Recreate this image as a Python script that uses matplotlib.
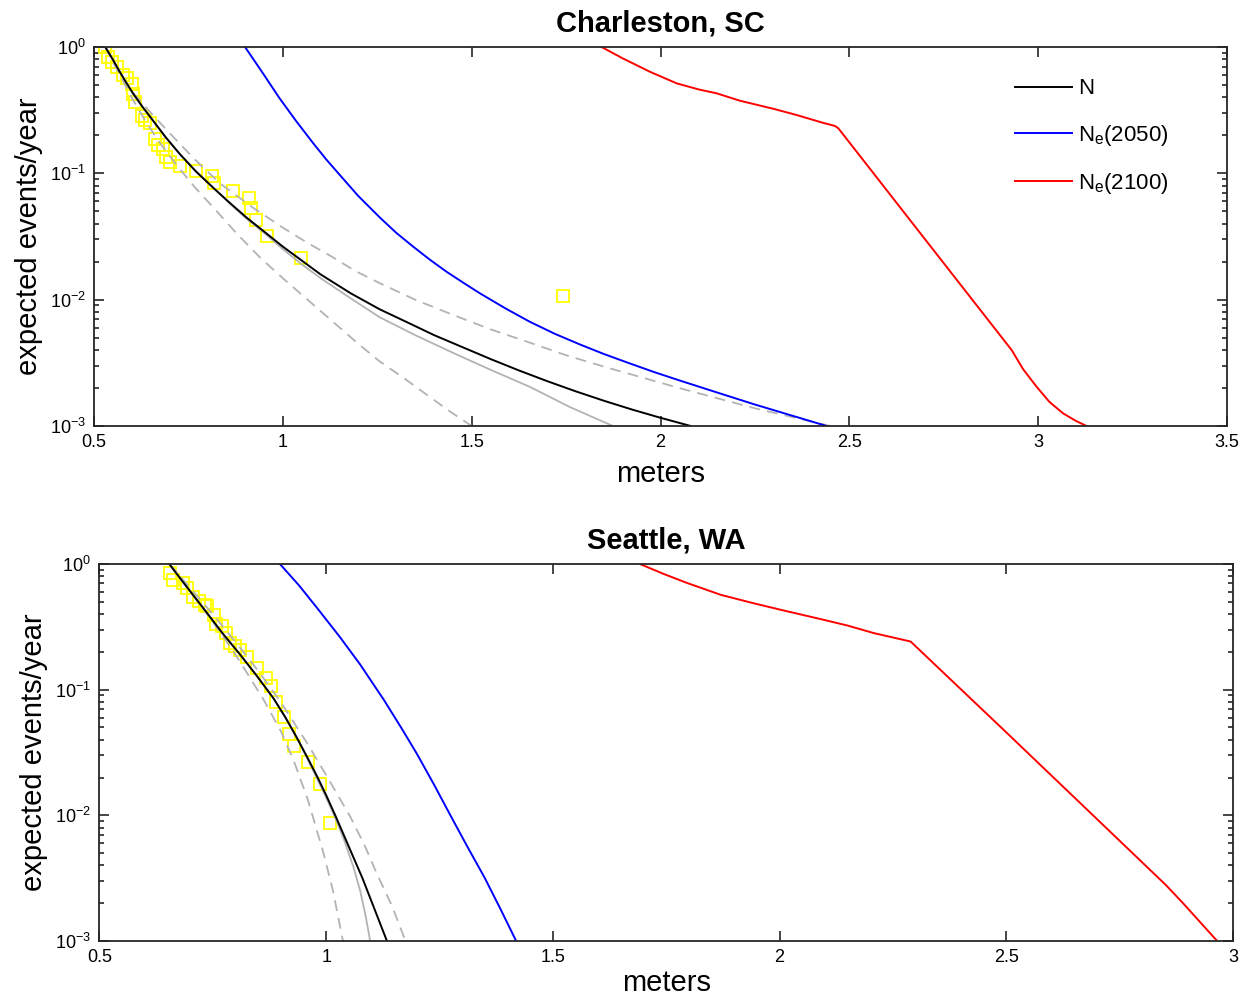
import numpy as np
import matplotlib
matplotlib.use("Agg")
import matplotlib.pyplot as plt
from matplotlib.ticker import LogLocator, NullFormatter, FuncFormatter

plt.rcParams['font.family'] = ['Liberation Sans', 'DejaVu Sans']
plt.rcParams['mathtext.default'] = 'regular'

# ---- Charleston, SC (x = meters, values = log10 of expected events/year) ----
chs_obs_x = [0.529, 0.538, 0.547, 0.560, 0.578, 0.587, 0.600, 0.604, 0.609, 0.626,
             0.635, 0.648, 0.662, 0.670, 0.682, 0.692, 0.701, 0.728, 0.770, 0.812,
             0.818, 0.869, 0.911, 0.917, 0.929, 0.959, 1.047, 1.742]
chs_obs_logy = [0.0, -0.077, -0.116, -0.156, -0.222, -0.248, -0.293, -0.372, -0.433, -0.546,
                -0.578, -0.604, -0.731, -0.776, -0.810, -0.873, -0.908, -0.942, -0.984, -1.021,
                -1.079, -1.138, -1.198, -1.277, -1.370, -1.496, -1.673, -1.971]

chs_n_x = [0.53, 0.55, 0.567, 0.585, 0.604, 0.63, 0.657, 0.69, 0.728, 0.77, 0.816, 0.86, 0.904,
           0.95, 1.0, 1.05, 1.1, 1.18, 1.257, 1.33, 1.4, 1.475, 1.55, 1.625, 1.7, 1.775, 1.85,
           1.925, 2.0, 2.08]
chs_n_logy = [0, -0.10, -0.19, -0.28, -0.37, -0.48, -0.585, -0.715, -0.85, -0.985, -1.115, -1.235,
              -1.35, -1.46, -1.58, -1.69, -1.80, -1.95, -2.077, -2.18, -2.28, -2.375, -2.47, -2.56,
              -2.645, -2.725, -2.80, -2.87, -2.935, -3.0]

chs_fit_x = [0.53, 0.55, 0.567, 0.585, 0.604, 0.63, 0.657, 0.69, 0.728, 0.77, 0.816, 0.86, 0.904,
             0.95, 1.0, 1.05, 1.1, 1.18, 1.257, 1.35, 1.45, 1.55, 1.654, 1.76, 1.874]
chs_fit_logy = [0, -0.10, -0.19, -0.28, -0.37, -0.48, -0.585, -0.715, -0.85, -0.985, -1.115, -1.24,
                -1.36, -1.47, -1.60, -1.72, -1.83, -1.99, -2.14, -2.28, -2.42, -2.555, -2.69, -2.85, -3.0]

chs_hi_x = [0.53, 0.565, 0.6, 0.65, 0.7, 0.767, 0.834, 0.92, 1.0, 1.065, 1.13, 1.19, 1.257, 1.35,
            1.45, 1.55, 1.654, 1.75, 1.85, 1.95, 2.05, 2.15, 2.25, 2.35, 2.45]
chs_hi_logy = [0, -0.18, -0.35, -0.52, -0.68, -0.89, -1.08, -1.27, -1.43, -1.55, -1.66, -1.77, -1.87,
               -2.0, -2.12, -2.235, -2.34, -2.44, -2.53, -2.615, -2.70, -2.78, -2.86, -2.93, -3.0]

chs_lo_x = [0.53, 0.565, 0.6, 0.635, 0.67, 0.72, 0.767, 0.825, 0.879, 0.941, 1.0, 1.05, 1.1, 1.15,
            1.2, 1.257, 1.32, 1.38, 1.44, 1.50]
chs_lo_logy = [0, -0.2, -0.40, -0.58, -0.74, -0.94, -1.11, -1.30, -1.48, -1.67, -1.83, -1.96, -2.09,
               -2.22, -2.35, -2.49, -2.62, -2.75, -2.88, -3.0]

chs_2050_x = [0.90, 0.925, 0.95, 0.97, 0.99, 1.035, 1.08, 1.115, 1.15, 1.2, 1.257, 1.30, 1.345, 1.39,
              1.434, 1.48, 1.522, 1.59, 1.654, 1.72, 1.787, 1.85, 1.919, 1.985, 2.051, 2.15, 2.25,
              2.345, 2.44]
chs_2050_logy = [0, -0.11, -0.22, -0.31, -0.40, -0.585, -0.76, -0.89, -1.01, -1.18, -1.35, -1.47, -1.58,
                 -1.685, -1.78, -1.87, -1.95, -2.07, -2.175, -2.27, -2.355, -2.43, -2.505, -2.575,
                 -2.64, -2.735, -2.83, -2.915, -3.0]

chs_2100_x = [1.844, 1.90, 1.972, 2.043, 2.10, 2.149, 2.21, 2.30, 2.36, 2.43, 2.462, 2.471, 2.713,
              2.93, 2.96, 2.996, 3.03, 3.066, 3.10, 3.128]
chs_2100_logy = [0, -0.09, -0.196, -0.288, -0.335, -0.367, -0.425, -0.49, -0.538, -0.60, -0.625, -0.644,
                 -1.57, -2.40, -2.55, -2.69, -2.81, -2.90, -2.96, -3.0]

# ---- Seattle, WA ----
sea_obs_x = [0.656, 0.663, 0.684, 0.692, 0.706, 0.720, 0.733, 0.737, 0.753, 0.757, 0.770, 0.779, 0.788,
             0.799, 0.809, 0.825, 0.847, 0.868, 0.878, 0.890, 0.907, 0.917, 0.929, 0.961, 0.987, 1.009]
sea_obs_logy = [-0.072, -0.125, -0.151, -0.191, -0.266, -0.298, -0.324, -0.338, -0.404, -0.478, -0.497,
                -0.550, -0.630, -0.649, -0.683, -0.744, -0.829, -0.908, -0.970, -1.095, -1.214, -1.355,
                -1.445, -1.573, -1.751, -2.064]

sea_n_x = [0.654, 0.69, 0.733, 0.77, 0.81, 0.847, 0.884, 0.91, 0.935, 0.96, 0.98, 1.0, 1.02, 1.05,
           1.08, 1.107, 1.134]
sea_n_logy = [0, -0.17, -0.37, -0.545, -0.72, -0.89, -1.07, -1.22, -1.38, -1.55, -1.69, -1.84, -2.0,
              -2.25, -2.5, -2.75, -3.0]

sea_fit_x = [0.654, 0.69, 0.733, 0.77, 0.81, 0.847, 0.884, 0.91, 0.935, 0.96, 0.98, 1.0, 1.02, 1.04,
             1.06, 1.075, 1.087, 1.097]
sea_fit_logy = [0, -0.17, -0.37, -0.545, -0.72, -0.89, -1.07, -1.22, -1.38, -1.56, -1.71, -1.86, -2.02,
                -2.2, -2.41, -2.6, -2.8, -3.0]

sea_hi_x = [0.654, 0.7, 0.75, 0.8, 0.85, 0.9, 0.957, 1.0, 1.053, 1.085, 1.11, 1.145, 1.175]
sea_hi_logy = [0, -0.19, -0.40, -0.62, -0.85, -1.1, -1.42, -1.68, -2.01, -2.24, -2.45, -2.72, -3.0]

sea_lo_x = [0.654, 0.7, 0.75, 0.8, 0.862, 0.9, 0.928, 0.96, 0.994, 1.015, 1.037]
sea_lo_logy = [0, -0.22, -0.46, -0.72, -1.08, -1.33, -1.56, -1.88, -2.30, -2.6, -3.0]

sea_2050_x = [0.898, 0.94, 0.98, 1.03, 1.075, 1.1, 1.127, 1.165, 1.2, 1.237, 1.274, 1.31, 1.35, 1.385,
              1.419]
sea_2050_logy = [0, -0.17, -0.35, -0.58, -0.80, -0.935, -1.08, -1.30, -1.51, -1.75, -2.0, -2.24, -2.5,
                 -2.75, -3.0]

sea_2100_x = [1.692, 1.745, 1.796, 1.87, 1.94, 2.002, 2.09, 2.15, 2.208, 2.289, 2.5, 2.7, 2.852, 2.89,
              2.92, 2.945, 2.965]
sea_2100_logy = [0, -0.08, -0.151, -0.245, -0.31, -0.364, -0.438, -0.49, -0.55, -0.617, -1.34, -2.03,
                 -2.555, -2.7, -2.82, -2.92, -3.0]

GRAY = '#b3b3b3'
AXC = '#262626'


def p(v):
    return 10.0 ** np.array(v)


def draw_panel(ax, obs_x, obs_y, n, fit, hi, lo, e50, e100, xmax, title, xpad):
    ax.plot(obs_x, p(obs_y), 's', mfc='none', mec='#ffff00', ms=8, mew=1.3)
    ax.plot(hi[0], p(hi[1]), color=GRAY, lw=1.3, ls=(0, (6, 4)))
    ax.plot(lo[0], p(lo[1]), color=GRAY, lw=1.3, ls=(0, (6, 4)))
    ax.plot(fit[0], p(fit[1]), color=GRAY, lw=1.3)
    h1, = ax.plot(n[0], p(n[1]), color='black', lw=1.4, label='N')
    h2, = ax.plot(e50[0], p(e50[1]), color='#0000ff', lw=1.4, label='$N_e$(2050)')
    h3, = ax.plot(e100[0], p(e100[1]), color='#ff0000', lw=1.4, label='$N_e$(2100)')
    ax.set_yscale('log')
    ax.set_xlim(0.5, xmax)
    ax.set_ylim(1e-3, 1e0)
    ax.set_xticks(np.arange(0.5, xmax + 0.01, 0.5))
    ax.xaxis.set_major_formatter(FuncFormatter(lambda v, pos: '%g' % v))
    ax.yaxis.set_major_locator(LogLocator(base=10, numticks=10))
    ax.yaxis.set_minor_locator(LogLocator(base=10, subs=np.arange(2, 10), numticks=20))
    ax.yaxis.set_minor_formatter(NullFormatter())
    ax.tick_params(which='both', direction='in', top=True, right=True, colors=AXC,
                   labelcolor='black', labelsize=13, width=1.2)
    ax.tick_params(which='major', length=7, pad=6)
    ax.tick_params(which='minor', length=3.5)
    for s in ax.spines.values():
        s.set_color(AXC)
        s.set_linewidth(1.3)
    ax.set_xlabel('meters', fontsize=21, labelpad=xpad)
    ax.set_ylabel('expected events/year', fontsize=21, labelpad=5)
    ax.set_title(title, fontsize=21, fontweight='bold', pad=11)
    return [h1, h2, h3]


fig = plt.figure(figsize=(12.48, 10), dpi=100)
ax1 = fig.add_axes([0.0753, 0.574, 0.9079, 0.379])
ax2 = fig.add_axes([0.0797, 0.059, 0.9083, 0.377])

handles = draw_panel(ax1, chs_obs_x, chs_obs_logy, (chs_n_x, chs_n_logy), (chs_fit_x, chs_fit_logy),
                     (chs_hi_x, chs_hi_logy), (chs_lo_x, chs_lo_logy), (chs_2050_x, chs_2050_logy),
                     (chs_2100_x, chs_2100_logy), 3.5, 'Charleston, SC', 6)
draw_panel(ax2, sea_obs_x, sea_obs_logy, (sea_n_x, sea_n_logy), (sea_fit_x, sea_fit_logy),
           (sea_hi_x, sea_hi_logy), (sea_lo_x, sea_lo_logy), (sea_2050_x, sea_2050_logy),
           (sea_2100_x, sea_2100_logy), 3.0, 'Seattle, WA', 2)

ax1.legend(handles=handles, loc='upper left', bbox_to_anchor=(0.813, 0.917), frameon=False,
           fontsize=16, handlelength=2.55, handletextpad=0.3, labelspacing=1.05,
           borderpad=0, borderaxespad=0)

fig.savefig('out.png', dpi=100)
